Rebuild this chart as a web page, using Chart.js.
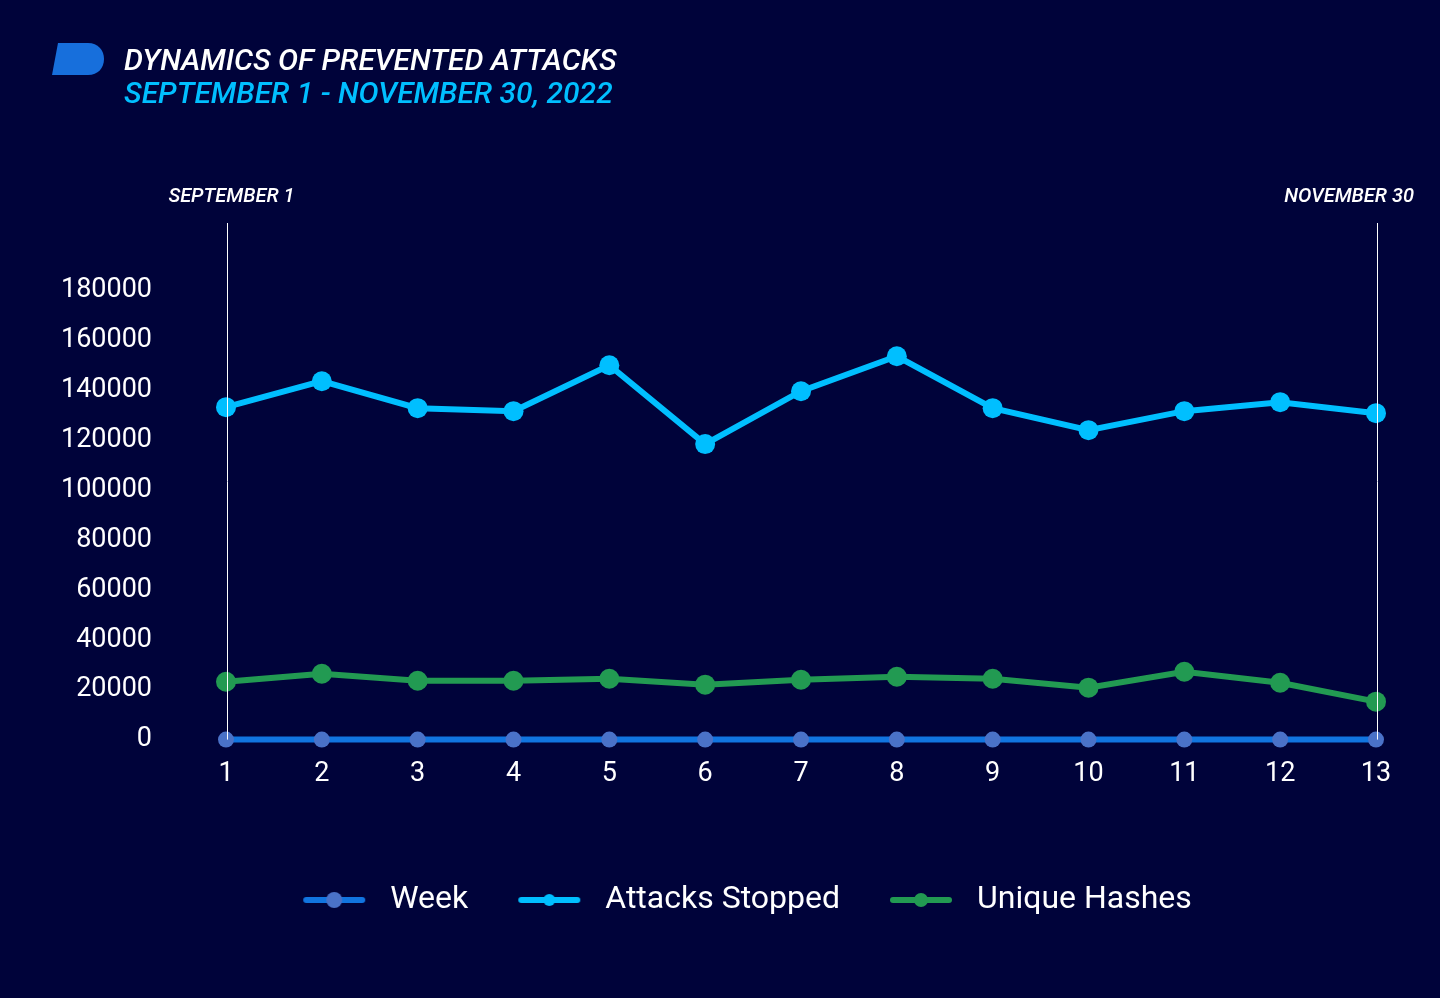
<!DOCTYPE html>
<html>
<head>
<meta charset="utf-8">
<script src="https://cdn.jsdelivr.net/npm/chart.js@4.4.1/dist/chart.umd.min.js"></script>
<style>
  html, body { margin: 0; padding: 0; background: #00033a; }
  body { width: 1440px; height: 998px; position: relative; overflow: hidden; font-family: Roboto, sans-serif; }
  #header { position: absolute; left: 52px; top: 41px; }
  #logo { position: absolute; left: 0; top: 2px; }
  .title { position: absolute; left: 72px; white-space: nowrap; font-style: italic; font-weight: 500; font-size: 30px; line-height: 33px; }
  #t1 { top: 2px; color: #ffffff; }
  #t2 { top: 35px; color: #00bfff; }
  #wrap { position: absolute; left: 0; top: 0; width: 1440px; height: 998px; }
</style>
</head>
<body>
<div id="wrap"><canvas id="chart" width="1440" height="998"></canvas></div>
<div id="header">
  <svg id="logo" width="52" height="32" viewBox="0 0 52 32">
    <path d="M6 0 H36 C46 0 52 7 52 16 C52 25 46 32 36 32 H0 Z" fill="#176fdc"/>
  </svg>
  <div class="title" id="t1">DYNAMICS OF PREVENTED ATTACKS</div>
  <div class="title" id="t2">SEPTEMBER 1 - NOVEMBER 30, 2022</div>
</div>
<script>
// chart data
const weeks = ['1', '2', '3', '4', '5', '6', '7', '8', '9', '10', '11', '12', '13'];
const weekValues = [1, 2, 3, 4, 5, 6, 7, 8, 9, 10, 11, 12, 13];
const attacksStopped = [133200, 143600, 132800, 131600, 150000, 118400, 139600, 153600, 132800, 124000, 131600, 135200, 130800];
const uniqueHashes = [23200, 26400, 23600, 23600, 24400, 22000, 24000, 25200, 24400, 20800, 27200, 22800, 15200];
const yTicks = [0, 20000, 40000, 60000, 80000, 100000, 120000, 140000, 160000, 180000];
const periodMarks = [{ index: 0, text: 'SEPTEMBER 1' }, { index: 12, text: 'NOVEMBER 30' }];

// legend marker: short line with a dot in the middle
function legendMarker(lineColor, dotColor, r) {
    const c = document.createElement('canvas');
    c.width = 76; c.height = 20;
    const g = c.getContext('2d');
    g.strokeStyle = lineColor;
    g.lineWidth = 6;
    g.lineCap = 'round';
    g.beginPath(); g.moveTo(8, 10); g.lineTo(64, 10); g.stroke();
    g.fillStyle = dotColor;
    g.beginPath(); g.arc(36, 10, r, 0, Math.PI * 2); g.fill();
    return c;
}

const markers = [
    legendMarker('#1175e0', '#4a72c8', 8),
    legendMarker('#00bfff', '#00bfff', 6),
    legendMarker('#229a52', '#229a52', 7)
];

// vertical period lines with labels
const periodLines = {
    id: 'periodLines',
    afterDraw(chart) {
        const ctx = chart.ctx;
        const x = chart.scales.x;
        const area = chart.chartArea;
        ctx.save();
        ctx.strokeStyle = '#ffffff';
        ctx.lineWidth = 1;
        ctx.fillStyle = '#ffffff';
        ctx.font = 'italic 500 20px Roboto';
        ctx.textBaseline = 'middle';
        periodMarks.forEach(m => {
            const px = Math.round(x.getPixelForValue(m.index)) + 1.5;
            ctx.beginPath();
            ctx.moveTo(px, area.top);
            ctx.lineTo(px, area.bottom);
            ctx.stroke();
            const w = ctx.measureText(m.text).width;
            let tx = px - w / 2 + 4;
            if (tx + w > chart.width - 26) tx = chart.width - 26 - w;
            ctx.textAlign = 'left';
            ctx.fillText(m.text, tx, area.top - 26);
        });
        ctx.restore();
    }
};

// move the legend a bit right and down
const legendShift = {
    id: 'legendShift',
    afterLayout(chart) {
        const lg = chart.legend;
        lg.left += 57; lg.right += 57;
        lg.top += 39; lg.bottom += 39;
    }
};

new Chart(document.getElementById('chart').getContext('2d'), {
    type: 'line',
    data: {
        labels: weeks,
        datasets: [{
            label: 'Week',
            data: weekValues,
            borderColor: '#1175e0',
            backgroundColor: '#4a72c8',
            pointBackgroundColor: '#4a72c8',
            borderWidth: 6,
            pointRadius: 8,
            pointBorderWidth: 0,
            clip: false
        }, {
            label: 'Attacks Stopped',
            data: attacksStopped,
            borderColor: '#00bfff',
            backgroundColor: '#00bfff',
            pointBackgroundColor: '#00bfff',
            borderWidth: 6,
            pointRadius: 10,
            pointBorderWidth: 0,
            clip: false
        }, {
            label: 'Unique Hashes',
            data: uniqueHashes,
            borderColor: '#229a52',
            backgroundColor: '#229a52',
            pointBackgroundColor: '#229a52',
            borderWidth: 6,
            pointRadius: 10,
            pointBorderWidth: 0,
            clip: false
        }]
    },
    options: {
        responsive: false,
        animation: false,
        layout: { padding: { top: 223, right: 64, left: 0, bottom: 111 } },
        scales: {
            x: {
                grid: { display: false },
                border: { display: false },
                ticks: { color: '#ffffff', font: { family: 'Roboto', size: 27 }, padding: 10 }
            },
            y: {
                min: 0,
                max: 207000,
                grid: { display: false },
                border: { display: false },
                ticks: {
                    color: '#ffffff',
                    font: { family: 'Roboto', size: 27 },
                    padding: 66,
                    callback: v => String(v)
                },
                afterBuildTicks: scale => { scale.ticks = yTicks.map(v => ({ value: v })); },
                afterFit: scale => { scale.width = 226; }
            }
        },
        plugins: {
            legend: {
                position: 'bottom',
                labels: {
                    color: '#ffffff',
                    font: { family: 'Roboto', size: 32 },
                    usePointStyle: true,
                    pointStyleWidth: 76,
                    padding: 45,
                    generateLabels: chart => chart.data.datasets.map((ds, i) => ({
                        text: ds.label,
                        fontColor: '#ffffff',
                        pointStyle: markers[i],
                        lineWidth: 0,
                        datasetIndex: i
                    }))
                }
            },
            tooltip: { enabled: false }
        }
    },
    plugins: [periodLines, legendShift]
});
</script>
</body>
</html>
